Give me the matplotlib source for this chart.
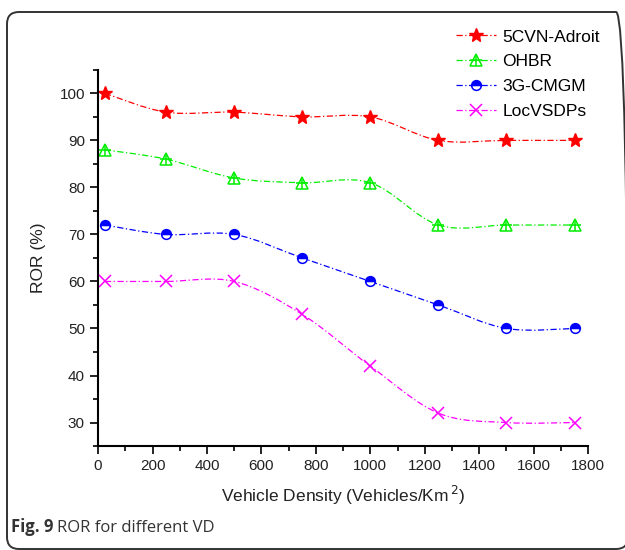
import matplotlib
matplotlib.use("Agg")
import matplotlib.pyplot as plt
from matplotlib.path import Path
from matplotlib.patches import PathPatch, FancyBboxPatch
from matplotlib.lines import Line2D
from matplotlib.legend_handler import HandlerTuple
from matplotlib.ticker import MultipleLocator
import numpy as np

plt.rcParams['font.family'] = ['Liberation Sans', 'DejaVu Sans']

density = [25, 250, 500, 750, 1000, 1250, 1500, 1750]
adroit = [100, 96, 96, 95, 95, 90, 90, 90]
ohbr = [88, 86, 82, 81, 81, 72, 72, 72]
cmgm = [72, 70, 70, 65, 60, 55, 50, 50]
locvsdps = [60, 60, 60, 53, 42, 32, 30, 30]

DASH = (0, (5, 2, 1, 2))


def smooth_path(xs, ys):
    # Catmull-Rom curve through the points, written as cubic Bezier segments
    p = np.column_stack([xs, ys]).astype(float)
    ext = np.vstack([p[0], p, p[-1]])
    verts = [p[0]]
    codes = [Path.MOVETO]
    for i in range(len(p) - 1):
        p0, p1, p2, p3 = ext[i], ext[i + 1], ext[i + 2], ext[i + 3]
        verts += [p1 + (p2 - p0) / 6, p2 - (p3 - p1) / 6, p2]
        codes += [Path.CURVE4] * 3
    return Path(verts, codes)


fig = plt.figure(figsize=(6.25, 5.5), dpi=100)
ax = fig.add_axes([0.157, 0.189, 0.784, 0.684])

series = [
    ("5CVN-Adroit", adroit, "#ff0000"),
    ("OHBR", ohbr, "#00ee00"),
    ("3G-CMGM", cmgm, "#0000ff"),
    ("LocVSDPs", locvsdps, "#ff00ff"),
]

handles = []
for name, vals, col in series:
    ax.add_patch(PathPatch(smooth_path(density, vals), fill=False,
                           edgecolor=col, lw=0.9, linestyle=DASH))
    if name == "5CVN-Adroit":
        ax.plot(density, vals, ls="none", marker="*", ms=10, color=col)
        h = Line2D([], [], color=col, lw=0.9, linestyle=DASH, marker="*", ms=10)
    elif name == "OHBR":
        ax.plot(density, vals, ls="none", marker="^", ms=8, mfc="none",
                mec=col, mew=1.1)
        ax.plot(density, vals, ls="none", marker="+", ms=8, mec=col, mew=1.1)
        h = (Line2D([], [], color=col, lw=0.9, linestyle=DASH, marker="^",
                    ms=8, mfc="none", mec=col, mew=1.1),
             Line2D([], [], ls="none", marker="+", ms=8, mec=col, mew=1.1))
    elif name == "3G-CMGM":
        ax.plot(density, vals, ls="none", marker="o", ms=7, color=col,
                fillstyle="top", mfc=col, mfcalt="white", mec=col, mew=1.1)
        h = Line2D([], [], color=col, lw=0.9, linestyle=DASH, marker="o", ms=7,
                   fillstyle="top", mfc=col, mfcalt="white", mec=col, mew=1.1)
    else:
        ax.plot(density, vals, ls="none", marker="x", ms=8, mec=col, mew=1.1)
        h = Line2D([], [], color=col, lw=0.9, linestyle=DASH, marker="x",
                   ms=8, mec=col, mew=1.1)
    handles.append(h)

ax.set_xlim(0, 1800)
ax.set_ylim(25, 105)
ax.xaxis.set_major_locator(MultipleLocator(200))
ax.xaxis.set_minor_locator(MultipleLocator(100))
ax.yaxis.set_major_locator(MultipleLocator(10))
ax.yaxis.set_minor_locator(MultipleLocator(5))
ax.set_yticks([30, 40, 50, 60, 70, 80, 90, 100])
for s in ["top", "right"]:
    ax.spines[s].set_visible(False)
for s in ["left", "bottom"]:
    ax.spines[s].set_linewidth(1.5)
ax.tick_params(which="major", direction="out", length=6, width=1.3,
               labelsize=11, color="#111111", labelcolor="#222222")
ax.tick_params(which="minor", direction="out", length=3.5, width=1.3,
               color="#111111")

ax.set_xlabel("Vehicle Density (Vehicles/Km$^{\\,2}$)", fontsize=12.5,
              labelpad=8, color="#222222")
ax.set_ylabel("ROR (%)", fontsize=12.5, labelpad=10, color="#222222")

fig.legend(handles, [s[0] for s in series], loc="upper right",
           bbox_to_anchor=(0.985, 0.975), frameon=False, fontsize=12.5,
           handlelength=2.3, handletextpad=0.4, labelspacing=0.55,
           handler_map={tuple: HandlerTuple(ndivide=1, pad=0)})

# rounded frame around the figure and its caption
frame = FancyBboxPatch((0.07, 0.01), 6.21, 5.37,
                       boxstyle="round,pad=0,rounding_size=0.12",
                       transform=fig.dpi_scale_trans, fill=False,
                       edgecolor="#333333", lw=1.4, clip_on=False)
fig.patches.append(frame)

fig.text(0.018, 0.032, "Fig. 9", fontsize=12, fontweight="bold",
         family=["Open Sans", "DejaVu Sans"], color="#333333")
fig.text(0.091, 0.032, "ROR for different VD", fontsize=12,
         family=["Open Sans", "DejaVu Sans"], color="#333333")

fig.savefig("out.png", dpi=100)
